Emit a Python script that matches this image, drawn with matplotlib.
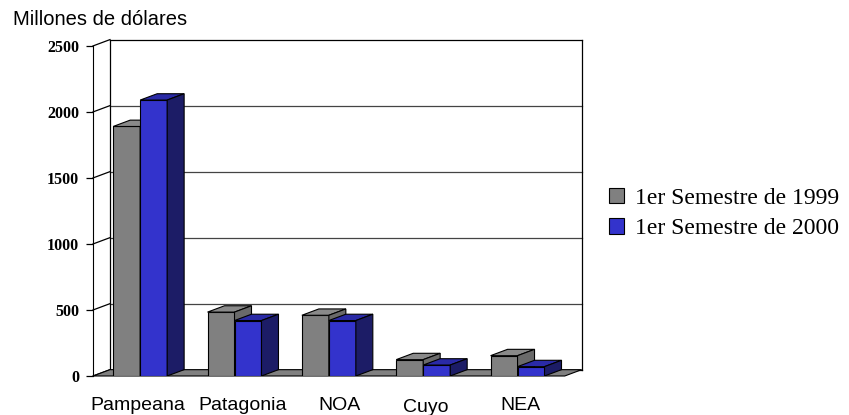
import numpy as np
import matplotlib
matplotlib.use("Agg")
import matplotlib.pyplot as plt
import matplotlib.transforms as mtransforms
from matplotlib.patches import Polygon, Patch

REGIONS = ["Pampeana", "Patagonia", "NOA", "Cuyo", "NEA"]
S1999 = [1890, 484, 460, 124, 154]
S2000 = [2090, 420, 420, 83, 71]
SERIES = ["1er Semestre de 1999", "1er Semestre de 2000"]
YTICKS = [0, 500, 1000, 1500, 2000, 2500]

# colours: front, top, side
GRAY = ("#808080", "#8a8a8a", "#6a6a6a")
BLUE = ("#3333cc", "#2a2aa6", "#1c1c66")

DX = 0.18      # depth offset (x units)
DY = 48        # depth offset (value units)
W = 0.286      # bar width

plt.rcParams["font.family"] = ["Liberation Sans", "DejaVu Sans"]

fig = plt.figure(figsize=(8.49, 4.15), dpi=100)
ax = fig.add_axes([93 / 849, 39 / 415, 488.7 / 849, 336.4 / 415])
ax.set_xlim(-0.5, len(REGIONS) - 0.5 + DX)
ax.set_ylim(0, YTICKS[-1] + DY)

x = np.arange(len(REGIONS))
x_left, x_right = -0.5, len(REGIONS) - 0.5

# back wall frame + gridlines
for v in YTICKS:
    col = "black" if v in (0, YTICKS[-1]) else "#444444"
    ax.plot([x_left + DX, x_right + DX], [v + DY, v + DY], color=col, lw=0.9, zorder=1, clip_on=False)
    # side wall lines
    ax.plot([x_left, x_left + DX], [v, v + DY], color="black", lw=0.9, zorder=1, clip_on=False)
ax.plot([x_left + DX, x_left + DX], [DY, YTICKS[-1] + DY], color="black", lw=0.9, zorder=1)
ax.plot([x_right + DX, x_right + DX], [DY, YTICKS[-1] + DY], color="black", lw=0.9, zorder=1, clip_on=False)

# floor
ax.add_patch(Polygon([(x_left, 0), (x_right, 0), (x_right + DX, DY), (x_left + DX, DY)],
                     closed=True, fc="#808080", ec="black", lw=0.8, zorder=2, clip_on=False))


def bars3d(xs, vals, cols, z):
    ax.bar(xs, vals, W, align="edge", color=cols[0], edgecolor="black", lw=0.8, zorder=z)
    for x0, v in zip(xs, vals):
        top = [(x0, v), (x0 + W, v), (x0 + W + DX, v + DY), (x0 + DX, v + DY)]
        side = [(x0 + W, 0), (x0 + W + DX, DY), (x0 + W + DX, v + DY), (x0 + W, v)]
        ax.add_patch(Polygon(top, closed=True, fc=cols[1], ec="black", lw=0.8, zorder=z))
        ax.add_patch(Polygon(side, closed=True, fc=cols[2], ec="black", lw=0.8, zorder=z))


bars3d(x - W, S1999, GRAY, 3)
bars3d(x, S2000, BLUE, 4)

# axes styling
for s in ["top", "right", "bottom"]:
    ax.spines[s].set_visible(False)
ax.spines["left"].set_bounds(0, YTICKS[-1])
ax.spines["left"].set_zorder(5)
ax.set_yticks(YTICKS)
ax.set_yticklabels([str(t) for t in YTICKS], fontfamily="Liberation Serif",
                   fontweight="bold", fontsize=11.5)
ax.tick_params(axis="y", direction="out", length=5, width=0.9, pad=5)
ax.set_xticks(x)
ax.set_xticklabels(REGIONS, fontsize=14)
ax.tick_params(axis="x", length=0, pad=15)
# small label nudges as in the original layout
nudges = [(-2, 0), (8, 0), (11, 0), (2.5, -2), (2.5, 0)]
for lab, (dx, dy) in zip(ax.get_xticklabels(), nudges):
    lab.set_transform(lab.get_transform() +
                      mtransforms.ScaledTranslation(dx / 100, dy / 100, fig.dpi_scale_trans))
ax.set_facecolor("none")

fig.text(12.7 / 849, 1 - 25 / 415, "Millones de dólares", fontsize=14.5, va="baseline", ha="left")

handles = [Patch(fc=GRAY[0], ec="black", lw=0.8), Patch(fc=BLUE[0], ec="black", lw=0.8)]
fig.legend(handles, SERIES, loc="center left", bbox_to_anchor=(609 / 849, 1 - 213.5 / 415),
           frameon=False, borderpad=0, borderaxespad=0,
           handlelength=0.62, handleheight=0.62, handletextpad=0.5,
           labelspacing=0.42, prop={"family": "Liberation Serif", "size": 17})

fig.savefig("out.png", dpi=100)
